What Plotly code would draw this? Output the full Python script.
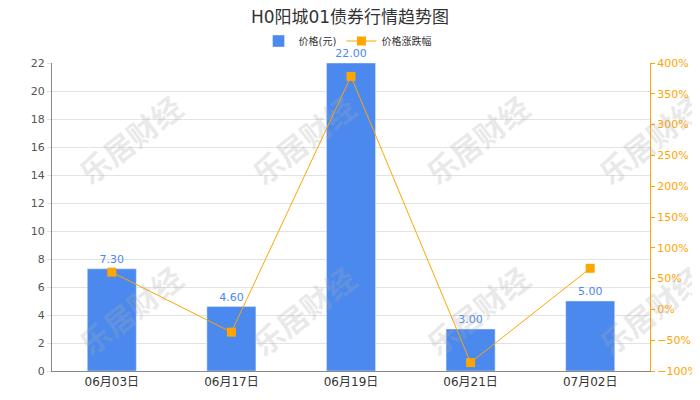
import plotly.graph_objects as go

categories = ["06月03日", "06月17日", "06月19日", "06月21日", "07月02日"]
prices = [7.30, 4.60, 22.00, 3.00, 5.00]
changes = [60.4, -37.0, 378.3, -86.4, 66.7]
price_labels = ["7.30", "4.60", "22.00", "3.00", "5.00"]

FONT = "DejaVu Sans, Noto Sans CJK SC, sans-serif"
BLUE = "#4B89EE"
ORANGE = "#FFA500"

# page body has an 8px margin; figure is sized so it fits the 700x400 window
W, H, OFF = 692, 392, 8

fig = go.Figure()
fig.add_trace(go.Bar(
    x=categories, y=prices, name="价格(元)",
    marker=dict(color=BLUE), width=0.41,
    text=price_labels, textposition="outside", cliponaxis=False,
    textfont=dict(color=BLUE, size=11, family=FONT),
    yaxis="y",
))
fig.add_trace(go.Scatter(
    x=categories, y=changes, name="价格涨跌幅", mode="lines+markers",
    line=dict(color=ORANGE, width=1),
    marker=dict(symbol="square", size=9, color=ORANGE),
    yaxis="y2", cliponaxis=False,
))

# watermark
wm_pos = [(98, 105), (299, 105), (500, 105), (700, 105),
          (98, 322), (299, 322), (500, 322), (700, 322)]
for (px, py) in wm_pos:
    fig.add_annotation(
        x=(px - OFF) / W, y=1 - (py - OFF) / H, xref="paper", yref="paper",
        text="<b>乐居财经</b>", showarrow=False, textangle=-38,
        font=dict(size=30, color="rgba(170,170,170,0.25)", family="Noto Sans CJK SC"),
        xanchor="center", yanchor="middle",
    )

fig.update_layout(
    width=W, height=H,
    margin=dict(l=52 - OFF, r=50, t=63 - OFF, b=29, autoexpand=False),
    paper_bgcolor="white", plot_bgcolor="white",
    font=dict(family=FONT, color="#333333", size=12),
    title=dict(text="H0阳城01债券行情趋势图", x=(350 - OFF) / W, xanchor="center",
               y=1 - (17 - OFF) / H, yanchor="middle",
               font=dict(size=17, color="#333333", family=FONT)),
    legend=dict(orientation="h", x=(350 - OFF) / W, xanchor="center",
                y=1 + (63 - 41) / 308, yanchor="middle",
                font=dict(size=10, color="#333333", family=FONT),
                bgcolor="rgba(0,0,0,0)", itemwidth=30),
    showlegend=True,
    xaxis=dict(showline=True, linecolor="#888888", linewidth=1, ticks="",
               tickfont=dict(size=12, color="#333333"), showgrid=False),
    yaxis=dict(range=[0, 22], dtick=2, showline=True, linecolor="#888888", linewidth=1,
               gridcolor="#E3E3E3", ticks="outside", ticklen=4, tickcolor="#E3E3E3",
               tickfont=dict(size=11, color="#555555"), zeroline=False),
    yaxis2=dict(range=[-100, 400], dtick=50, overlaying="y", side="right",
                showline=True, linecolor=ORANGE, linewidth=1, showgrid=False,
                ticks="outside", ticklen=4, tickcolor=ORANGE, ticksuffix="%",
                tickfont=dict(size=11, color=ORANGE), zeroline=False),
)

fig.write_html("out.html")
